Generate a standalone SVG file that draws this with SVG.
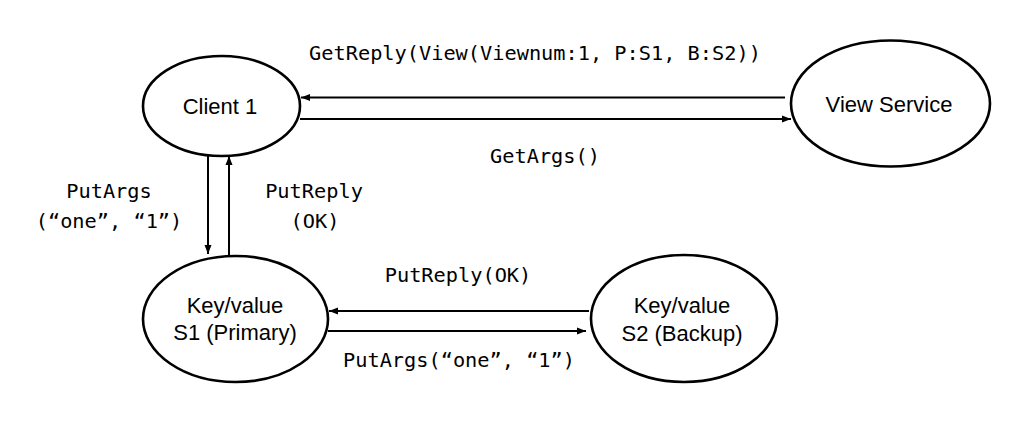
<svg xmlns="http://www.w3.org/2000/svg" width="1021" height="434" viewBox="0 0 1021 434">
<style>
.node{fill:#fff;stroke:#000;stroke-width:2.6}
.nt{font-family:"Liberation Sans",Arial,sans-serif;font-size:22px;fill:#000;text-anchor:middle}
.lbl{font-family:"DejaVu Sans Mono","Liberation Mono",monospace;font-size:20.3px;fill:#000;text-anchor:middle}
.edge{stroke:#000;stroke-width:2;fill:none;marker-end:url(#ah)}
</style>
<defs>
<marker id="ah" markerUnits="userSpaceOnUse" markerWidth="10" markerHeight="8" refX="9" refY="4" orient="auto">
<path d="M0,0.5 L9,4 L0,7.5 z" fill="#000"/>
</marker>
</defs>
<rect width="1021" height="434" fill="#fff"/>
<g id="connectors">
<line class="edge" x1="785" y1="97.5" x2="301" y2="97.5"/>
<line class="edge" x1="300" y1="119" x2="791" y2="119"/>
<line class="edge" x1="208" y1="156" x2="208" y2="254"/>
<line class="edge" x1="229" y1="256" x2="229" y2="156"/>
<line class="edge" x1="589" y1="311" x2="329" y2="311"/>
<line class="edge" x1="328" y1="331" x2="586" y2="331"/>
<text class="lbl" x="535" y="60">GetReply(View(Viewnum:1, P:S1, B:S2))</text>
<text class="lbl" x="545" y="163">GetArgs()</text>
<text class="lbl" x="109" y="198">PutArgs</text>
<text class="lbl" x="109" y="228">(“one”, “1”)</text>
<text class="lbl" x="314" y="198">PutReply</text>
<text class="lbl" x="315" y="228">(OK)</text>
<text class="lbl" x="458" y="282">PutReply(OK)</text>
<text class="lbl" x="459" y="367">PutArgs(“one”, “1”)</text>
</g>
<g id="client1">
<ellipse class="node" cx="221.5" cy="106" rx="78.5" ry="50"/>
<text class="nt" x="220" y="114">Client 1</text>
</g>
<g id="viewservice">
<ellipse class="node" cx="890.5" cy="103.5" rx="99.5" ry="63"/>
<text class="nt" x="889" y="112">View Service</text>
</g>
<g id="s1">
<ellipse class="node" cx="235.5" cy="319" rx="92.5" ry="63"/>
<text class="nt" x="235" y="313">Key/value</text>
<text class="nt" x="235" y="340">S1 (Primary)</text>
</g>
<g id="s2">
<ellipse class="node" cx="684" cy="318.5" rx="93" ry="63.5"/>
<text class="nt" x="682" y="313">Key/value</text>
<text class="nt" x="682" y="341">S2 (Backup)</text>
</g>
</svg>
